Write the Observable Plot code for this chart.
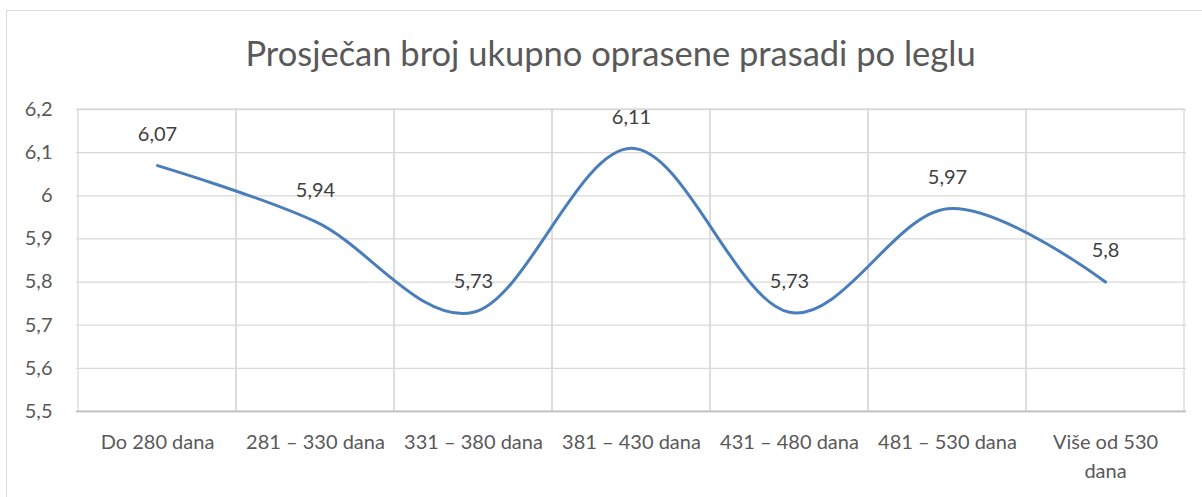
<!DOCTYPE html>
<html>
<head>
<meta charset="utf-8">
<script src="https://cdn.jsdelivr.net/npm/d3@7"></script>
<script src="https://cdn.jsdelivr.net/npm/@observablehq/plot@0.6"></script>
<style>
  html, body { margin: 0; padding: 0; background: #fff; }
  #wrap { position: relative; width: 1202px; height: 497px; overflow: hidden; }
  #border { position: absolute; left: 6px; top: 10px; width: 1210px; height: 500px; border: 1px solid #d9d9d9; box-sizing: border-box; }
  #chart { position: absolute; left: 0; top: 0; }
</style>
</head>
<body>
<div id="wrap"><div id="border"></div><div id="chart"></div></div>
<script>
const title = "Prosječan broj ukupno oprasene prasadi po leglu";
const categories = ["Do 280 dana", "281 – 330 dana", "331 – 380 dana", "381 – 430 dana", "431 – 480 dana", "481 – 530 dana", "Više od 530 dana"];
const tickLabels = ["Do 280 dana", "281 – 330 dana", "331 – 380 dana", "381 – 430 dana", "431 – 480 dana", "481 – 530 dana", "Više od 530\ndana"];
const values = [6.07, 5.94, 5.73, 6.11, 5.73, 5.97, 5.8];
const yTicks = [5.5, 5.6, 5.7, 5.8, 5.9, 6.0, 6.1, 6.2];

const data = categories.map((c, i) => ({cat: c, value: values[i]}));
const fmt = v => String(+v.toFixed(2)).replace(".", ",");
const textColor = "#595959";
const font = "Lato, 'Open Sans', sans-serif";

const chart = Plot.plot({
  width: 1202,
  height: 497,
  marginLeft: 76,
  marginRight: 16,
  marginTop: 109,
  marginBottom: 86,
  style: {fontFamily: font, fontSize: "20px", color: textColor, background: "transparent"},
  x: {type: "band", domain: categories, padding: 0, label: null},
  y: {domain: [5.5, 6.2], label: null},
  marks: [
    Plot.gridY(yTicks, {stroke: "#d9d9d9", strokeOpacity: 1, strokeWidth: 1.3}),
    Plot.barY(categories, {x: d => d, y1: 5.5, y2: 6.2, fill: "none", stroke: "#d9d9d9", strokeWidth: 1.3, inset: 0}),
    Plot.ruleY([5.5], {stroke: "#bfbfbf", strokeWidth: 1.3}),
    Plot.axisY(yTicks, {tickSize: 0, tickPadding: 24, tickFormat: fmt, fontSize: 20, fill: textColor, label: null}),
    Plot.axisX({tickSize: 0, tickPadding: 17, tickFormat: d => tickLabels[categories.indexOf(d)], fontSize: 20, fill: textColor, lineHeight: 1.45, label: null}),
    Plot.line(data, {x: "cat", y: "value", stroke: "#4a7ebb", strokeWidth: 3, curve: "cardinal", tension: 0}),
    Plot.text(data, {x: "cat", y: "value", text: d => fmt(d.value), dy: -31, fill: "#404040", fontSize: 20}),
    Plot.text([title], {frameAnchor: "top", lineAnchor: "middle", dx: -21, dy: -55, fontSize: 34.5, fill: textColor})
  ]
});
document.getElementById("chart").appendChild(chart);
</script>
</body>
</html>
